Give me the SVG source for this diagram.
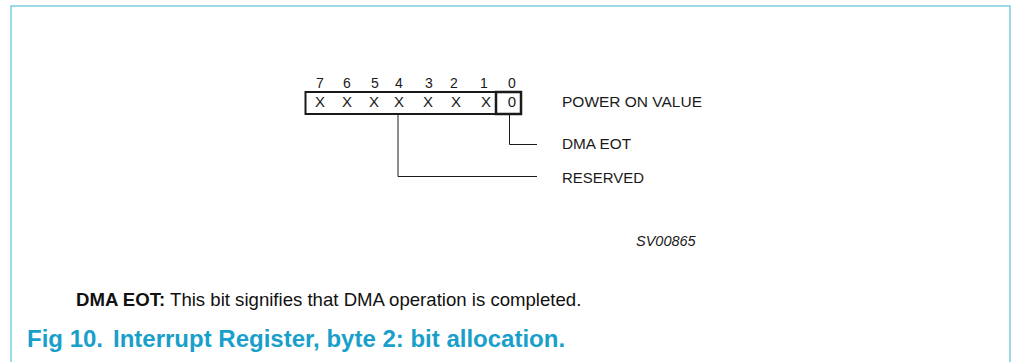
<svg xmlns="http://www.w3.org/2000/svg" width="1012" height="362" viewBox="0 0 1012 362">
<style>
.t{font-family:"Liberation Sans",Arial,sans-serif;font-size:15px;fill:#1a1a1a}
.d{font-size:14px;text-anchor:middle}
.x{font-size:15px;text-anchor:middle}
.ln{fill:none;stroke:#1a1a1a;stroke-width:1}
</style>
<rect width="1012" height="362" fill="#fff"/>
<path d="M11,370 V6 H1010 V370" fill="none" stroke="#7ccde0" stroke-width="1.5"/>
<g id="register">
<rect x="305.5" y="92" width="215.5" height="22" fill="none" stroke="#1a1a1a" stroke-width="2"/>
<rect x="496" y="92" width="25" height="22" fill="none" stroke="#1a1a1a" stroke-width="2.5"/>
<g class="t">
<text class="d" x="320" y="88">7</text><text class="d" x="347" y="88">6</text><text class="d" x="375" y="88">5</text><text class="d" x="399" y="88">4</text><text class="d" x="429" y="88">3</text><text class="d" x="454" y="88">2</text><text class="d" x="484" y="88">1</text><text class="d" x="512" y="88">0</text>
<text class="x" x="320" y="107">X</text><text class="x" x="347" y="107">X</text><text class="x" x="374" y="107">X</text><text class="x" x="399" y="107">X</text><text class="x" x="428" y="107">X</text><text class="x" x="456" y="107">X</text><text class="x" x="486" y="107">X</text><text class="x" x="512" y="107">0</text>
</g>
</g>
<g id="connectors">
<path class="ln" d="M509.5,114 V144.5 H537"/>
<path class="ln" d="M398,114 V176.5 H537"/>
</g>
<g id="labels" class="t">
<text x="562" y="107" textLength="140" lengthAdjust="spacingAndGlyphs">POWER ON VALUE</text>
<text x="562" y="149" textLength="69" lengthAdjust="spacingAndGlyphs">DMA EOT</text>
<text x="562" y="182.5" textLength="82" lengthAdjust="spacingAndGlyphs">RESERVED</text>
</g>
<text x="636" y="246" class="t" style="font-style:italic;font-size:14.5px">SV00865</text>
<text x="76" y="306" style="font-family:'Liberation Sans',Arial,sans-serif;font-size:18.6px;fill:#111"><tspan font-weight="bold">DMA EOT:</tspan> This bit signifies that DMA operation is completed.</text>
<text x="27" y="347" style="font-family:'Liberation Sans',Arial,sans-serif;font-size:24px;font-weight:bold;fill:#1a9fca">Fig 10.<tspan x="113">Interrupt Register, byte 2: bit allocation.</tspan></text>
</svg>
